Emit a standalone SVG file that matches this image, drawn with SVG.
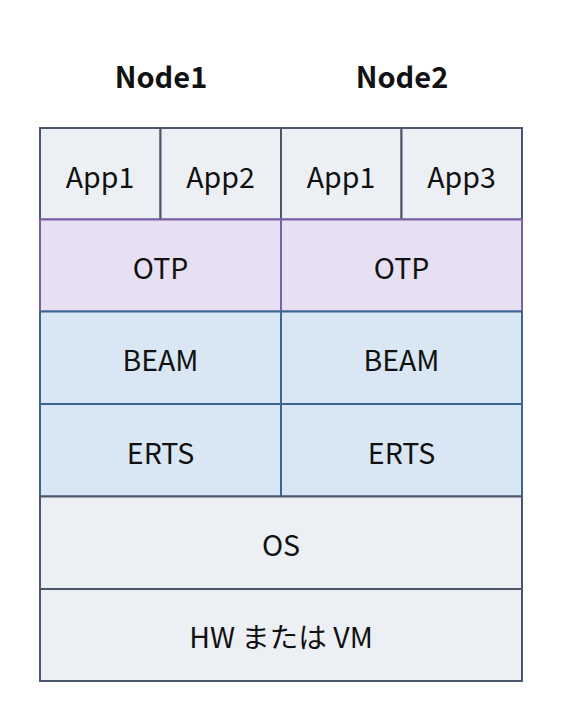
<svg xmlns="http://www.w3.org/2000/svg" width="563" height="723" viewBox="0 0 563 723">
<style>
text{font-family:"Noto Sans CJK JP","Noto Sans",sans-serif;font-size:28.5px;fill:#111;text-anchor:middle;dominant-baseline:central}
.h{font-weight:bold;font-size:29px}
.app{fill:#eceff4;stroke:#4c566a;stroke-width:2}
.otp{fill:#e7dff2;stroke:#7d5fa8;stroke-width:2}
.beam{fill:#d9e6f3;stroke:#3c6593;stroke-width:2}
.os{fill:#eceff4;stroke:#4c566a;stroke-width:2}
</style>
<rect width="563" height="723" fill="#fff"/>
<g id="titles">
<text class="h" x="161" y="75">Node1</text>
<text class="h" x="402" y="75">Node2</text>
</g>
<g id="n1-app1"><rect class="app" x="40" y="128" width="120.5" height="91.5"/><text x="100" y="175">App1</text></g>
<g id="n1-app2"><rect class="app" x="160.5" y="128" width="120.5" height="91.5"/><text x="220.5" y="175">App2</text></g>
<g id="n2-app1"><rect class="app" x="281" y="128" width="120.5" height="91.5"/><text x="341" y="175">App1</text></g>
<g id="n2-app3"><rect class="app" x="401.5" y="128" width="120.5" height="91.5"/><text x="461.5" y="175">App3</text></g>
<g id="n1-otp"><rect class="otp" x="40" y="219.5" width="241" height="92"/><text x="160.5" y="266">OTP</text></g>
<g id="n2-otp"><rect class="otp" x="281" y="219.5" width="241" height="92"/><text x="401.5" y="266">OTP</text></g>
<g id="n1-beam"><rect class="beam" x="40" y="311.5" width="241" height="92.5"/><text x="160.5" y="358">BEAM</text></g>
<g id="n2-beam"><rect class="beam" x="281" y="311.5" width="241" height="92.5"/><text x="401.5" y="358">BEAM</text></g>
<g id="n1-erts"><rect class="beam" x="40" y="404" width="241" height="92.5"/><text x="160.5" y="451">ERTS</text></g>
<g id="n2-erts"><rect class="beam" x="281" y="404" width="241" height="92.5"/><text x="401.5" y="451">ERTS</text></g>
<g id="os"><rect class="os" x="40" y="496.5" width="482" height="92.5"/><text x="281" y="543">OS</text></g>
<g id="hw"><rect class="os" x="40" y="589" width="482" height="92"/><text x="281" y="635">HW または VM</text></g>
<g id="connectors"></g>
</svg>
